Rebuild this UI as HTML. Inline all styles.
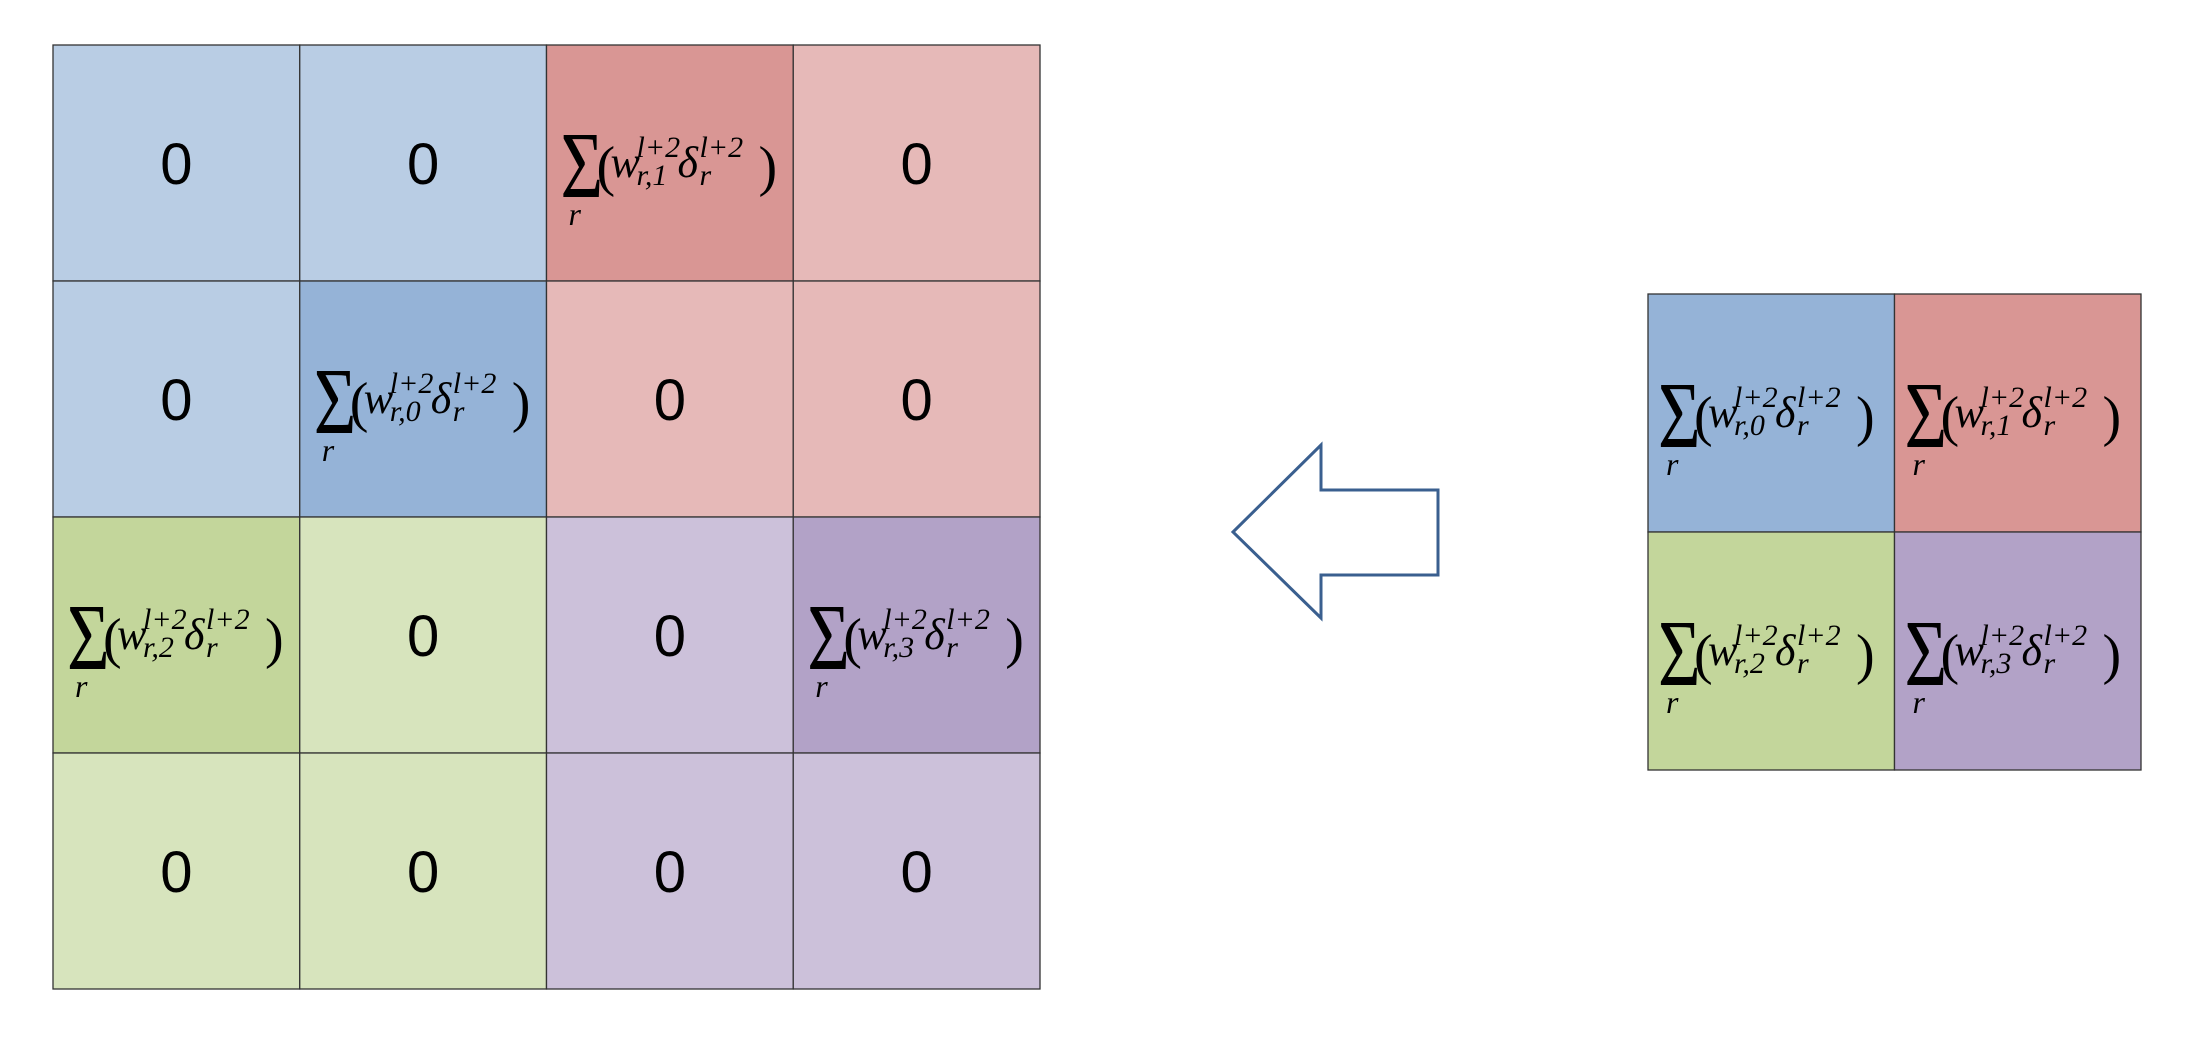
<!DOCTYPE html>
<html>
<head>
<meta charset="utf-8">
<style>
html,body{margin:0;padding:0;background:#fff;}
svg{display:block;}
text{font-family:"Liberation Serif",serif;}
.zero{font-family:"Liberation Sans",sans-serif;font-size:58px;fill:#000;}
</style>
</head>
<body>
<svg id="fig" width="2194" height="1040" viewBox="0 0 2194 1040" xmlns="http://www.w3.org/2000/svg">
  <g id="big"></g>
  <polygon points="1233,532 1321,445 1321,490 1438,490 1438,575 1321,575 1321,618" fill="#fff" stroke="#3a5f8f" stroke-width="3"/>
  <g id="small"></g>
</svg>
<script>
const bigColors = [
  ["#b9cde4","#b9cde4","#d99694","#e6b9b8"],
  ["#b9cde4","#95b3d7","#e6b9b8","#e6b9b8"],
  ["#c3d69b","#d7e4bd","#ccc1da","#b2a2c7"],
  ["#d7e4bd","#d7e4bd","#ccc1da","#ccc1da"]
];
const bigContent = [
  [-1,-1,1,-1],
  [-1,0,-1,-1],
  [2,-1,-1,3],
  [-1,-1,-1,-1]
];
const smallColors = [["#95b3d7","#d99694"],["#c3d69b","#b2a2c7"]];
const smallContent = [[0,1],[2,3]];
const subIdx = ["0","1","2","3"];

const NS = "http://www.w3.org/2000/svg";
function mk(tag, attrs, parent){
  const e = document.createElementNS(NS, tag);
  for (const k in attrs) e.setAttribute(k, attrs[k]);
  parent.appendChild(e);
  return e;
}
function txt(parent, x, y, size, s, italic){
  const t = mk("text", {x:x, y:y, "font-size":size}, parent);
  if (italic) t.setAttribute("font-style","italic");
  t.textContent = s;
  return t;
}
function formula(parent, x0, yc, k){
  const g = mk("g", {}, parent);
  
  
  const sg = mk("g", {transform:"translate(" + x0 + "," + (yc+32) + ") scale(0.78,1)"}, g);
  txt(sg, 0, 0, 94, "\u03a3", false);
  txt(g, x0+8, yc+60, 32, "r", true);
  txt(g, x0+36, yc+20, 56, "(", false);
  txt(g, x0+50, yc+12, 44, "w", true);
  txt(g, x0+76, yc-8, 30, "l+2", true);
  txt(g, x0+76, yc+20, 30, "r," + subIdx[k], true);
  txt(g, x0+117, yc+12, 44, "\u03b4", true);
  txt(g, x0+139, yc-8, 30, "l+2", true);
  txt(g, x0+139, yc+20, 30, "r", true);
  txt(g, x0+198, yc+20, 56, ")", false);
}
function grid(parent, x0, y0, cw, ch, colors, content, pad, name){
  const n = colors.length, m = colors[0].length;
  for (let r = 0; r < n; r++){
    for (let c = 0; c < m; c++){
      const x = x0 + c*cw, y = y0 + r*ch;
      const rect = mk("rect", {x:x, y:y, width:cw, height:ch, fill:colors[r][c], stroke:"#333", "stroke-width":1.3}, parent);
      
      
      const k = content[r][c];
      if (k < 0){
        const t = txt(parent, x + cw/2, y + ch/2 + 21, 58, "0", false);
        t.setAttribute("class","zero");
        t.setAttribute("text-anchor","middle");
        
        
      } else {
        formula(parent, x + pad, y + ch/2 + 2, k);
      }
    }
  }
}
grid(document.getElementById("big"), 53, 45, 246.75, 236, bigColors, bigContent, 14, "big");
grid(document.getElementById("small"), 1648, 294, 246.5, 238, smallColors, smallContent, 10, "small");
</script>
</body>
</html>
